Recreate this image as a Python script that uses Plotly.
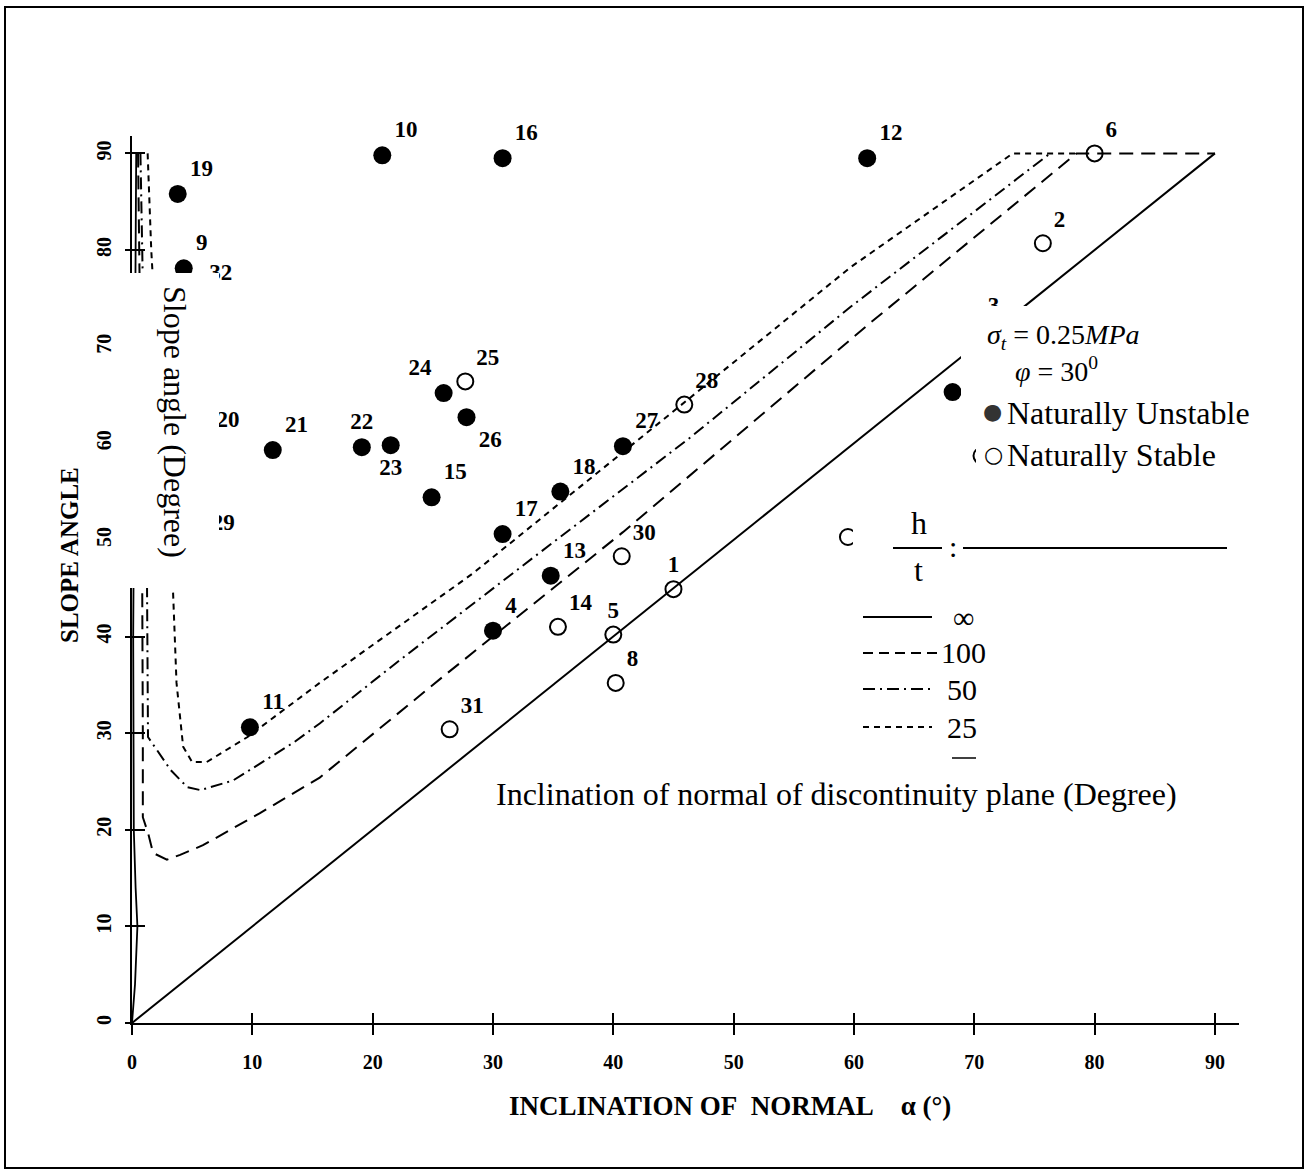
import plotly.graph_objects as go

# ---------------- data ----------------
tick_vals = [0, 10, 20, 30, 40, 50, 60, 70, 80, 90]
tick_text = ["0", "10", "20", "30", "40", "50", "60", "70", "80", "90"]

# h/t = infinity (solid)
x_inf = [0, 90]
y_inf = [0, 90]
x_inf_axis = [0, 0.25, 0.45, 0.3, 0.15, 0.1, 0.3, 0.35]
y_inf_axis = [0, 4, 10, 14, 20, 40, 80, 90]

# h/t = 100 (long dash)
x_100 = [0.5, 0.8, 0.9, 0.9, 1.35, 1.75, 2.9, 4.0, 5.9, 10.6, 15.6, 25.8, 40.8, 61.3, 78.5, 90]
y_100 = [90, 60, 30, 21.3, 19.6, 17.6, 16.9, 17.4, 18.4, 21.7, 25.4, 35.8, 50.8, 72.4, 90, 90]

# h/t = 50 (dash-dot)
x_50 = [0.7, 1.0, 1.25, 1.33, 2.1, 3.2, 4.6, 5.7, 8.4, 13.4, 15.6, 22.3, 31.6, 46.4, 59.7, 76.3]
y_50 = [90, 70, 45, 29.6, 28.2, 26.2, 24.4, 24.1, 25.1, 29.0, 31.0, 37.6, 46.5, 60.6, 74.1, 90]

# h/t = 25 (short dash)
x_25 = [1.3, 1.6, 2.5, 3.4, 3.7, 4.25, 5.0, 6.2, 9.6, 15.6, 28.3, 44.1, 59.7, 73.2, 78.5]
y_25 = [90, 80, 60, 45, 35.2, 28.6, 27.0, 27.0, 29.6, 35.2, 46.5, 62.4, 78.2, 90, 90]

# naturally unstable (filled), numbered
unst_labels = ["19", "9", "10", "16", "12", "21", "22", "23", "24", "26", "15", "17",
               "18", "27", "13", "4", "11", "20", "29", "32", "3"]
unst_x = [3.8, 4.3, 20.8, 30.8, 61.1, 11.7, 19.1, 21.5, 25.9, 27.8, 24.9, 30.8,
          35.6, 40.8, 34.8, 30.0, 9.8, 6.0, 5.6, 5.4, 70.1]
unst_y = [85.8, 78.1, 89.8, 89.5, 89.5, 59.3, 59.6, 59.8, 65.2, 62.7, 54.4, 50.6,
          55.0, 59.7, 46.3, 40.6, 30.6, 59.8, 49.2, 75.0, 71.6]
unst_pos = ["top right", "top right", "top right", "top right", "top right", "top right",
            "top center", "bottom center", "top left", "bottom right", "top right",
            "top right", "top right", "top right", "top right", "top right", "top right",
            "top right", "top right", "top right", "top right"]
# naturally unstable, number hidden by the overlay box
unst_hidden_x = [68.2]
unst_hidden_y = [65.3]

# naturally stable (open), numbered
stab_labels = ["6", "2", "25", "28", "30", "1", "14", "5", "8", "31"]
stab_x = [80.0, 75.7, 27.7, 45.9, 40.7, 45.0, 35.4, 40.0, 40.2, 26.4]
stab_y = [90.0, 80.7, 66.4, 64.0, 48.3, 44.9, 41.0, 40.2, 35.2, 30.4]
stab_pos = ["top right", "top right", "top right", "top right", "top right", "top center",
            "top right", "top center", "top right", "top right"]
# naturally stable, number hidden by the overlay boxes
stab_hidden_x = [59.5, 70.6]
stab_hidden_y = [50.3, 58.7]

# ---------------- layout geometry ----------------
W_FIG, H_FIG = 1308, 1171
L, R, T, B = 132, 69, 136, 148
PW = W_FIG - L - R
PH = H_FIG - T - B


def px(x):
    return (x - L) / PW


def py(y):
    return (T + PH - y) / PH


SERIF = "Liberation Serif"
BOLD = dict(family=SERIF, size=23, color="black", weight="bold")

fig = go.Figure()

fig.add_trace(go.Scatter(x=x_100, y=y_100, mode="lines",
                         line=dict(color="black", width=2, dash="14px,8px"), hoverinfo="skip"))
fig.add_trace(go.Scatter(x=x_50, y=y_50, mode="lines",
                         line=dict(color="black", width=2, dash="12px,5px,2px,5px"), hoverinfo="skip"))
fig.add_trace(go.Scatter(x=x_25, y=y_25, mode="lines",
                         line=dict(color="black", width=2, dash="6px,5px"), hoverinfo="skip"))
fig.add_trace(go.Scatter(x=x_inf_axis, y=y_inf_axis, mode="lines",
                         line=dict(color="black", width=1.8), hoverinfo="skip"))

filled = dict(symbol="circle", size=18, color="black")
opened = dict(symbol="circle-open", size=16, color="black", line=dict(width=2, color="black"))

fig.add_trace(go.Scatter(x=unst_x, y=unst_y, mode="markers+text", text=unst_labels,
                         textposition=unst_pos, textfont=BOLD, cliponaxis=False,
                         marker=filled, hoverinfo="skip"))
fig.add_trace(go.Scatter(x=unst_hidden_x, y=unst_hidden_y, mode="markers", cliponaxis=False,
                         marker=filled, hoverinfo="skip"))
fig.add_trace(go.Scatter(x=stab_x, y=stab_y, mode="markers+text", text=stab_labels,
                         textposition=stab_pos, textfont=BOLD, cliponaxis=False,
                         marker=opened, hoverinfo="skip"))
fig.add_trace(go.Scatter(x=stab_hidden_x, y=stab_hidden_y, mode="markers", cliponaxis=False,
                         marker=opened, hoverinfo="skip"))

# solid h/t = infinity line on the overlay axes (which carry the inner tick marks)
fig.add_trace(go.Scatter(x=x_inf, y=y_inf, mode="lines", xaxis="x2", yaxis="y2",
                         line=dict(color="black", width=2), hoverinfo="skip"))

tickfont = dict(family=SERIF, size=20, color="black", weight="bold")
fig.update_layout(
    width=W_FIG, height=H_FIG,
    margin=dict(l=L, r=R, t=T, b=B, pad=0),
    paper_bgcolor="white", plot_bgcolor="white",
    showlegend=False,
    xaxis=dict(range=[0, 92], tickvals=tick_vals, ticktext=tick_text, ticks="outside",
               ticklen=10, tickwidth=2, tickcolor="black", showline=True, linecolor="black",
               linewidth=2, showgrid=False, zeroline=False, tickfont=tickfont,
               ticklabelstandoff=10),
    yaxis=dict(range=[0, 91.8], tickvals=tick_vals, ticktext=tick_text, ticks="outside",
               ticklen=5, tickwidth=2, tickcolor="black", showline=True, linecolor="black",
               linewidth=2, showgrid=False, zeroline=False, tickfont=tickfont,
               tickangle=-90, ticklabelstandoff=6),
    xaxis2=dict(range=[0, 92], overlaying="x", anchor="y2", side="bottom",
                tickvals=tick_vals, ticks="inside", ticklen=10, tickwidth=2,
                tickcolor="black", showticklabels=False, showline=False,
                showgrid=False, zeroline=False),
    yaxis2=dict(range=[0, 91.8], overlaying="y", anchor="x2", side="left",
                tickvals=tick_vals, ticks="inside", ticklen=13, tickwidth=2,
                tickcolor="black", showticklabels=False, showline=False,
                showgrid=False, zeroline=False),
)

shapes = []


def rect(x0, y0, x1, y1):
    shapes.append(dict(type="rect", xref="paper", yref="paper", x0=px(x0), x1=px(x1),
                       y0=py(y1), y1=py(y0), fillcolor="white", line=dict(width=0),
                       layer="above"))


def hline(x0, x1, y, dash="solid", width=2):
    shapes.append(dict(type="line", xref="paper", yref="paper", x0=px(x0), x1=px(x1),
                       y0=py(y), y1=py(y), line=dict(color="black", width=width, dash=dash),
                       layer="above"))


# white overlay boxes
rect(122, 273, 219, 588)      # "Slope angle (Degree)"
rect(961, 306, 1262, 436)     # sigma / phi / unstable
rect(976, 436, 1262, 476)     # stable row
rect(853, 476, 1250, 762)     # h/t legend
rect(478, 762, 1196, 824)     # x caption

# h/t legend lines
hline(893, 942, 548)
hline(963, 1227, 548)
hline(863, 932, 617)
hline(863, 937, 653, dash="10px,6px")
hline(863, 932, 689, dash="12px,5px,2px,5px")
hline(863, 932, 727, dash="6px,5px")
hline(952, 976, 758, width=1.5)

# outer frame
shapes.append(dict(type="rect", xref="paper", yref="paper", x0=px(5), x1=px(1303),
                   y0=py(1168), y1=py(7), line=dict(color="black", width=2),
                   fillcolor="rgba(0,0,0,0)", layer="above"))
fig.update_layout(shapes=shapes)

ann = []


def text(x, y, s, size=32, angle=0, xanchor="center", weight="normal", color="black",
         family=SERIF):
    ann.append(dict(x=px(x), y=py(y), xref="paper", yref="paper", text=s, showarrow=False,
                    textangle=angle, xanchor=xanchor, yanchor="middle",
                    font=dict(family=family, size=size, color=color, weight=weight)))


text(175, 422, "Slope angle (Degree)", angle=90)
text(836, 794, "Inclination of normal of discontinuity plane (Degree)")
text(1063, 337, "<i>σ</i><sub><i>t</i></sub> = 0.25<i>MPa</i>", size=28)
text(1056, 369, "<i>φ</i> = 30<sup>0</sup>", size=28)
text(992, 411, "●", size=22, color="#333333", family="DejaVu Sans")
text(1005, 413, "Naturally Unstable", xanchor="left")
text(993, 454, "○", size=22, family="DejaVu Sans")
text(1005, 455, "Naturally Stable", xanchor="left")
text(919, 523, "h", size=32)
text(918, 570, "t", size=32)
text(953, 546, ":", size=30)
text(963, 617, "∞", size=30)
text(963, 652, "100", size=30)
text(962, 689, "50", size=30)
text(962, 727, "25", size=30)
text(69, 555, "SLOPE ANGLE", size=25, angle=-90, weight="bold")
text(730, 1106, "INCLINATION OF\u00a0\u00a0NORMAL\u00a0\u00a0\u00a0\u00a0α\u00a0(°)", size=27,
     weight="bold")
fig.update_layout(annotations=ann)

fig.write_html("out.html", config={"displayModeBar": False},
               post_script="document.body.style.margin='0';")
